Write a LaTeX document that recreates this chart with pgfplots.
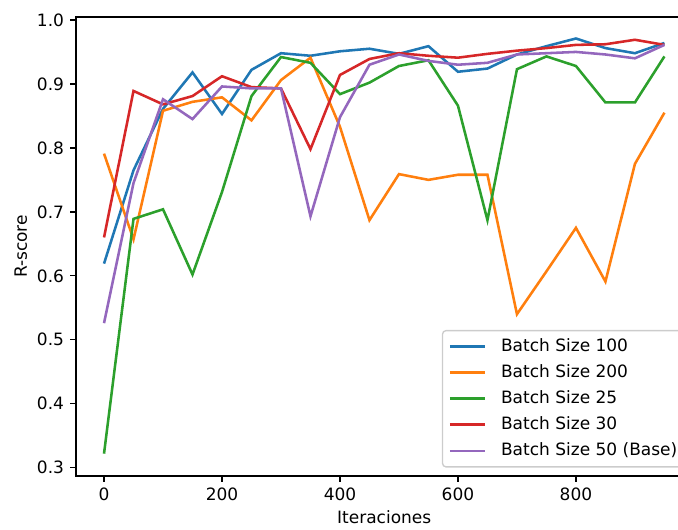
\documentclass[border=0pt]{standalone}
\usepackage{fontspec}
\setmainfont{DejaVu Sans}
\usepackage{pgfplots}
\usepackage{pgfplotstable}
\pgfplotsset{compat=1.18}
\definecolor{c0}{HTML}{1F77B4}
\definecolor{c1}{HTML}{FF7F0E}
\definecolor{c2}{HTML}{2CA02C}
\definecolor{c3}{HTML}{D62728}
\definecolor{c4}{HTML}{9467BD}

\pgfplotstableread{
x b100 b200 b25 b30 b50
0   0.619 0.791 0.322 0.660 0.526
50  0.765 0.657 0.689 0.889 0.745
100 0.861 0.858 0.704 0.868 0.876
150 0.918 0.872 0.602 0.881 0.845
200 0.853 0.879 0.731 0.912 0.896
250 0.922 0.843 0.881 0.895 0.893
300 0.948 0.906 0.942 0.893 0.893
350 0.944 0.941 0.933 0.798 0.693
400 0.951 0.833 0.884 0.914 0.848
450 0.955 0.687 0.902 0.939 0.930
500 0.947 0.759 0.928 0.948 0.946
550 0.959 0.750 0.937 0.944 0.936
600 0.919 0.758 0.866 0.941 0.930
650 0.924 0.758 0.687 0.947 0.933
700 0.946 0.540 0.923 0.952 0.946
750 0.959 0.607 0.943 0.956 0.948
800 0.971 0.675 0.928 0.961 0.950
850 0.956 0.591 0.871 0.962 0.946
900 0.948 0.775 0.871 0.969 0.940
950 0.964 0.855 0.943 0.961 0.961
}\datatable

\begin{document}
\fontsize{10}{12}\selectfont
\begin{tikzpicture}
\begin{axis}[
  name=ax,
  scale only axis,
  width=362.6pt, height=270pt,
  xmin=-47.5, xmax=997.5,
  ymin=0.287, ymax=1.0046,
  xtick={0,200,400,600,800},
  ytick={0.3,0.4,0.5,0.6,0.7,0.8,0.9,1.0},
  yticklabel style={/pgf/number format/.cd, fixed, fixed zerofill, precision=1},
  /pgf/number format/assume math mode=true,
  tick align=outside,
  xtick pos=bottom, ytick pos=left,
  major tick length=3.5pt,
  every tick/.style={line width=0.8pt, black},
  axis line style={line width=0.8pt},
  tick label style={font=\fontsize{10}{12}\selectfont},
  label style={font=\fontsize{10}{12}\selectfont},
  xlabel={Iteraciones},
  ylabel={R-score},
  xlabel style={yshift=1pt},
  ylabel style={yshift=-1pt},
  legend cell align=left,
  legend image code/.code={\draw[#1, line width=1.5pt] (0pt,0pt) -- (21pt,0pt);},
  legend style={
    at={(rel axis cs:1,0)}, anchor=south east, xshift=-5pt, yshift=5pt,
    draw=black!20, line width=0.8pt, rounded corners=2pt,
    fill=white, fill opacity=0.8, text opacity=1,
    font=\fontsize{10}{12}\selectfont,
    inner xsep=3.5pt, inner ysep=1.8pt,
    row sep=0pt,
    nodes={inner xsep=0pt, inner ysep=2.75pt, text height=7.6pt, text depth=2.2pt},
    /tikz/every odd column/.append style={column sep=8.4pt},
  },
  every axis plot/.append style={line width=1.5pt},
]
\addplot[c0, mark=none] table[x=x, y=b100] {\datatable};
\addlegendentry{Batch Size 100}
\addplot[c1, mark=none] table[x=x, y=b200] {\datatable};
\addlegendentry{Batch Size 200}
\addplot[c2, mark=none] table[x=x, y=b25] {\datatable};
\addlegendentry{Batch Size 25}
\addplot[c3, mark=none] table[x=x, y=b30] {\datatable};
\addlegendentry{Batch Size 30}
\addplot[c4, mark=none] table[x=x, y=b50] {\datatable};
\addlegendentry{Batch Size 50 (Base)}
\end{axis}
\pgfresetboundingbox
\path[use as bounding box] ([shift={(-44.7pt,-31.2pt)}]ax.south west) rectangle ([shift={(354.1pt,280pt)}]ax.south west);
\end{tikzpicture}
\end{document}
